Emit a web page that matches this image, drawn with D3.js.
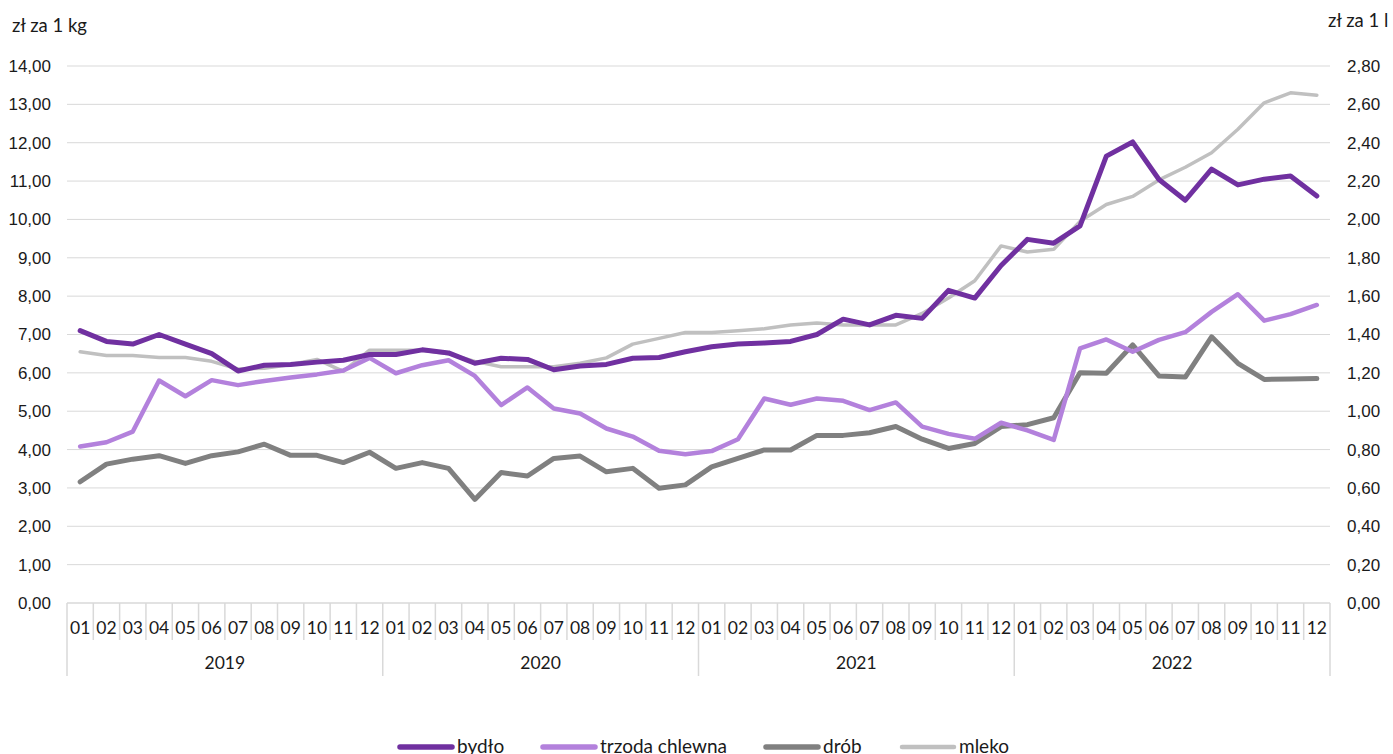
<!DOCTYPE html>
<html>
<head>
<meta charset="utf-8">
<script src="https://cdn.jsdelivr.net/npm/d3@7"></script>
<style>
  body { margin: 0; background: #fff; }
  svg { font-family: Lato, "Noto Sans", sans-serif; }
</style>
</head>
<body>
<svg id="chart" width="1393" height="754"></svg>
<script>
// months and years on the x axis
const years = ["2019", "2020", "2021", "2022"];
const months = ["01","02","03","04","05","06","07","08","09","10","11","12"];

// zł za 1 kg
const bydlo = [
  7.10, 6.82, 6.75, 7.00, 6.75, 6.50, 6.05, 6.20, 6.22, 6.28, 6.33, 6.48,
  6.48, 6.60, 6.52, 6.25, 6.38, 6.35, 6.08, 6.18, 6.22, 6.38, 6.40, 6.55,
  6.68, 6.75, 6.78, 6.82, 7.00, 7.40, 7.25, 7.50, 7.42, 8.15, 7.95, 8.80,
  9.48, 9.38, 9.83, 11.65, 12.02, 11.04, 10.50, 11.31, 10.90, 11.05, 11.13, 10.61
];
const trzoda = [
  4.08, 4.19, 4.47, 5.80, 5.39, 5.81, 5.68, 5.79, 5.88, 5.96, 6.06, 6.39,
  5.99, 6.20, 6.33, 5.92, 5.16, 5.62, 5.07, 4.94, 4.55, 4.34, 3.97, 3.88,
  3.96, 4.27, 5.33, 5.17, 5.33, 5.27, 5.03, 5.23, 4.60, 4.41, 4.28, 4.70,
  4.50, 4.25, 6.64, 6.87, 6.55, 6.86, 7.06, 7.59, 8.05, 7.36, 7.53, 7.77
];
const drob = [
  3.16, 3.62, 3.75, 3.84, 3.64, 3.84, 3.94, 4.14, 3.85, 3.85, 3.66, 3.93,
  3.51, 3.66, 3.51, 2.70, 3.40, 3.31, 3.77, 3.83, 3.42, 3.51, 2.99, 3.08,
  3.55, 3.77, 3.99, 3.99, 4.37, 4.37, 4.44, 4.60, 4.27, 4.03, 4.16, 4.60,
  4.65, 4.83, 6.00, 5.99, 6.73, 5.92, 5.89, 6.94, 6.25, 5.83, 5.84, 5.85
];
// zł za 1 l (right axis)
const mleko = [
  1.310, 1.290, 1.290, 1.280, 1.280, 1.260, 1.220, 1.224, 1.244, 1.270, 1.208, 1.318,
  1.318, 1.318, 1.300, 1.260, 1.232, 1.232, 1.232, 1.250, 1.278, 1.350, 1.380, 1.410,
  1.410, 1.420, 1.430, 1.450, 1.460, 1.450, 1.450, 1.450, 1.510, 1.590, 1.680, 1.862,
  1.830, 1.844, 1.990, 2.078, 2.120, 2.206, 2.272, 2.348, 2.470, 2.608, 2.660, 2.648
];

const leftTicks = d3.range(0, 14.01, 1);
const rightTicks = d3.range(0, 2.801, 0.2);

const svg = d3.select("#chart");
const margin = { left: 67, right: 1330, top: 66, bottom: 603 };

const labels = [];
years.forEach(y => months.forEach(m => labels.push(y + "-" + m)));

const x = d3.scaleBand()
  .domain(d3.range(labels.length))
  .range([margin.left, margin.right]);
const cx = i => x(i) + x.bandwidth() / 2;

const yL = d3.scaleLinear().domain([0, 14]).range([margin.bottom, margin.top]);
const yR = d3.scaleLinear().domain([0, 2.8]).range([margin.bottom, margin.top]);

const fmt = v => d3.format(".2f")(v).replace(".", ",");

// gridlines
svg.append("g")
  .selectAll("line")
  .data(leftTicks.filter(d => d > 0))
  .enter().append("line")
    .attr("x1", margin.left).attr("x2", margin.right)
    .attr("y1", d => yL(d)).attr("y2", d => yL(d))
    .attr("stroke", "#d9d9d9").attr("stroke-width", 1);

// left axis
const gl = svg.append("g")
  .attr("transform", "translate(51,0)")
  .call(d3.axisLeft(yL).tickValues(leftTicks).tickFormat(fmt).tickSize(0).tickPadding(0));
gl.select(".domain").remove();
gl.selectAll("text").attr("font-size", 17).attr("fill", "#1a1a1a").attr("font-family", null);

// right axis
const gr = svg.append("g")
  .attr("transform", "translate(1347,0)")
  .call(d3.axisRight(yR).tickValues(rightTicks).tickFormat(fmt).tickSize(0).tickPadding(0));
gr.select(".domain").remove();
gr.selectAll("text").attr("font-size", 17).attr("fill", "#1a1a1a").attr("font-family", null);

// axis titles
svg.append("text").attr("x", 12).attr("y", 32)
  .attr("font-size", 18.5).attr("fill", "#1a1a1a").text("zł za 1 kg");
svg.append("text").attr("x", 1328).attr("y", 27)
  .attr("font-size", 18.5).attr("fill", "#1a1a1a").text("zł za 1 l");

// x axis baseline and category separators
const xa = svg.append("g");
xa.append("line")
  .attr("x1", margin.left).attr("x2", margin.right)
  .attr("y1", margin.bottom).attr("y2", margin.bottom)
  .attr("stroke", "#d9d9d9").attr("stroke-width", 1.5);

xa.selectAll(".sep")
  .data(d3.range(labels.length + 1))
  .enter().append("line")
    .attr("class", "sep")
    .attr("x1", i => i < labels.length ? x(i) : margin.right)
    .attr("x2", i => i < labels.length ? x(i) : margin.right)
    .attr("y1", margin.bottom)
    .attr("y2", i => i % 12 === 0 ? 676 : 640)
    .attr("stroke", "#d9d9d9").attr("stroke-width", 1.5);

xa.selectAll(".mlab")
  .data(labels)
  .enter().append("text")
    .attr("class", "mlab")
    .attr("x", (d, i) => cx(i))
    .attr("y", 634)
    .attr("text-anchor", "middle")
    .attr("font-size", 17.5).attr("fill", "#1a1a1a")
    .text(d => d.split("-")[1]);

xa.selectAll(".ylab")
  .data(years)
  .enter().append("text")
    .attr("class", "ylab")
    .attr("x", (d, i) => (x(i * 12) + x(i * 12 + 11) + x.bandwidth()) / 2)
    .attr("y", 669)
    .attr("text-anchor", "middle")
    .attr("font-size", 17.5).attr("fill", "#1a1a1a")
    .text(d => d);

// series
const series = [
  { name: "mleko", values: mleko, y: yR, color: "#c0c0c0", width: 3.5 },
  { name: "drób", values: drob, y: yL, color: "#808080", width: 5 },
  { name: "trzoda chlewna", values: trzoda, y: yL, color: "#b381dc", width: 4.5 },
  { name: "bydło", values: bydlo, y: yL, color: "#7030a0", width: 5 }
];

series.forEach(s => {
  const line = d3.line()
    .x((d, i) => cx(i))
    .y(d => s.y(d));
  svg.append("path")
    .datum(s.values)
    .attr("fill", "none")
    .attr("stroke", s.color)
    .attr("stroke-width", s.width)
    .attr("stroke-linejoin", "round")
    .attr("stroke-linecap", "round")
    .attr("d", line);
});

// legend
const legendItems = [
  { name: "bydło", color: "#7030a0", width: 5.5, x: 400 },
  { name: "trzoda chlewna", color: "#b381dc", width: 5.5, x: 543 },
  { name: "drób", color: "#808080", width: 5.5, x: 766 },
  { name: "mleko", color: "#c0c0c0", width: 4.5, x: 902 }
];
const lg = svg.append("g").attr("class", "legend");
const li = lg.selectAll("g")
  .data(legendItems)
  .enter().append("g")
    .attr("transform", d => "translate(" + d.x + ",747)");
li.append("line")
  .attr("x1", 0).attr("x2", 52)
  .attr("stroke", d => d.color)
  .attr("stroke-width", d => d.width)
  .attr("stroke-linecap", "round");
li.append("text")
  .attr("x", 57).attr("y", 6)
  .attr("font-size", 19).attr("fill", "#1a1a1a")
  .text(d => d.name);
</script>
</body>
</html>
